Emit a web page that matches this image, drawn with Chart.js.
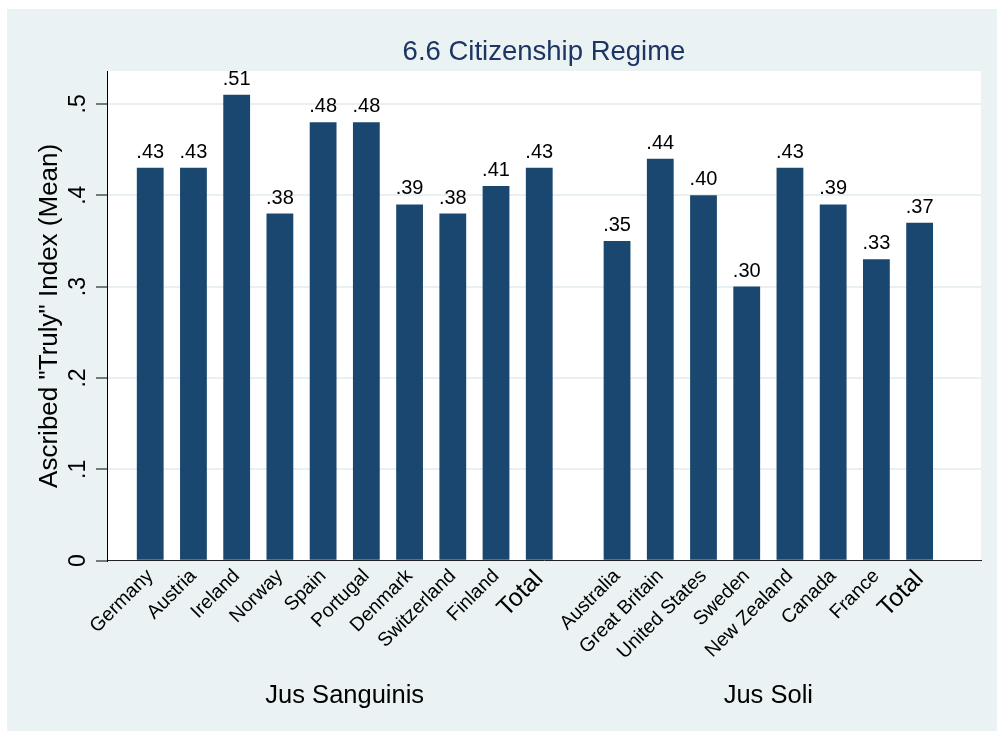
<!DOCTYPE html>
<html>
<head>
<meta charset="utf-8">
<script src="https://cdn.jsdelivr.net/npm/chart.js@4"></script>
<style>
  body { margin: 0; background: #fff; }
  #wrap { position: absolute; left: 7px; top: 9px; width: 990px; height: 722px; }
</style>
</head>
<body>
<div id="wrap"><canvas id="chart"></canvas></div>
<script>
// data
const sanguinisLabels = ['Germany', 'Austria', 'Ireland', 'Norway', 'Spain', 'Portugal', 'Denmark', 'Switzerland', 'Finland', 'Total'];
const sanguinisValues = [0.43, 0.43, 0.51, 0.38, 0.48, 0.48, 0.39, 0.38, 0.41, 0.43];
const soliLabels = ['Australia', 'Great Britain', 'United States', 'Sweden', 'New Zealand', 'Canada', 'France', 'Total'];
const soliValues = [0.35, 0.44, 0.40, 0.30, 0.43, 0.39, 0.33, 0.37];
const groupNames = ['Jus Sanguinis', 'Jus Soli'];
const yTickValues = [0, 0.1, 0.2, 0.3, 0.4, 0.5];
const yTickLabels = ['0', '.1', '.2', '.3', '.4', '.5'];
const chartTitle = '6.6 Citizenship Regime';
const yTitle = 'Ascribed "Truly" Index (Mean)';

const FONT = "'Liberation Sans', Arial, Helvetica, sans-serif";
const BAR = '#1a476f';
const GAP = 1.8; // space between the two groups, in bar slots

// x positions: index within group, second group shifted by the gap
const posA = sanguinisLabels.map((_, i) => i);
const posB = soliLabels.map((_, i) => sanguinisLabels.length - 1 + GAP + i);
const allPos = posA.concat(posB);
const allLabels = sanguinisLabels.concat(soliLabels);
const allValues = sanguinisValues.concat(soliValues);

const fmt = v => v === 0 ? '0' : v.toFixed(2).replace(/^0/, '');

const stataLook = {
    id: 'stataLook',
    beforeDraw(chart) {
        const { ctx, chartArea: a, width, height } = chart;
        ctx.save();
        ctx.fillStyle = '#eaf2f3';
        ctx.fillRect(0, 0, width, height);
        ctx.fillStyle = '#ffffff';
        ctx.fillRect(a.left, a.top, a.right - a.left, a.bottom - a.top);
        ctx.restore();
    },
    afterDraw(chart) {
        const { ctx, chartArea: a, scales: { x, y } } = chart;
        ctx.save();
        // title
        ctx.fillStyle = '#1c3563';
        ctx.font = '27.5px ' + FONT;
        ctx.textAlign = 'center';
        ctx.textBaseline = 'alphabetic';
        ctx.fillText(chartTitle, (a.left + a.right) / 2, 51);

        // y tick labels, rotated like Stata does
        ctx.fillStyle = '#000';
        ctx.font = '23px ' + FONT;
        yTickValues.forEach((v, i) => {
            ctx.save();
            ctx.translate(a.left - 22, y.getPixelForValue(v));
            ctx.rotate(-Math.PI / 2);
            ctx.textAlign = 'center';
            ctx.fillText(yTickLabels[i], 0, 0);
            ctx.restore();
        });

        // value labels on top of the bars
        ctx.font = '20px ' + FONT;
        const meta = chart.getDatasetMeta(0);
        ctx.textAlign = 'center';
        meta.data.forEach((bar, i) => {
            ctx.fillText(fmt(allValues[i]), bar.x, bar.y - 10);
        });

        // group names under the rotated category labels
        ctx.font = '25.5px ' + FONT;
        const centerA = (x.getPixelForValue(posA[0]) + x.getPixelForValue(posA[posA.length - 1])) / 2;
        const centerB = (x.getPixelForValue(posB[0]) + x.getPixelForValue(posB[posB.length - 1])) / 2;
        ctx.fillText(groupNames[0], centerA, 694);
        ctx.fillText(groupNames[1], centerB, 694);
        ctx.restore();
    }
};

new Chart(document.getElementById('chart'), {
    type: 'bar',
    data: {
        datasets: [{
            data: allPos.map((p, i) => ({ x: p, y: allValues[i] })),
            backgroundColor: BAR,
            borderWidth: 0,
            barPercentage: 0.62,
            categoryPercentage: 1
        }]
    },
    plugins: [stataLook],
    options: {
        responsive: true,
        maintainAspectRatio: false,
        animation: false,
        layout: { padding: { top: 62, right: 16, left: 0, bottom: 0 } },
        plugins: { legend: { display: false }, tooltip: { enabled: false } },
        scales: {
            x: {
                type: 'linear',
                offset: false,
                min: -1,
                max: posB[posB.length - 1] + 1.42,
                afterFit: s => { s.height = 170.3; },
                afterBuildTicks: s => { s.ticks = allPos.map(v => ({ value: v })); },
                grid: { display: false, drawTicks: false },
                border: { display: true, color: '#222', width: 1 },
                ticks: {
                    autoSkip: false,
                    minRotation: 45,
                    maxRotation: 45,
                    padding: 4,
                    color: '#000',
                    font: c => ({ family: FONT, size: allLabels[c.index] === 'Total' ? 25 : 19.5 }),
                    callback: (v, i) => allLabels[i]
                }
            },
            y: {
                min: 0,
                max: 0.536,
                afterFit: s => { s.width = 100; },
                afterBuildTicks: s => { s.ticks = yTickValues.map(v => ({ value: v })); },
                grid: { color: '#e8f0f1', lineWidth: 2, tickColor: '#000', tickLength: 11, tickWidth: 1 },
                border: { display: true, color: '#000', width: 1 },
                ticks: { display: false },
                title: {
                    display: true,
                    text: yTitle,
                    color: '#000',
                    font: { family: FONT, size: 26 },
                    padding: { top: 27, bottom: 0 }
                }
            }
        }
    }
});
</script>
</body>
</html>
